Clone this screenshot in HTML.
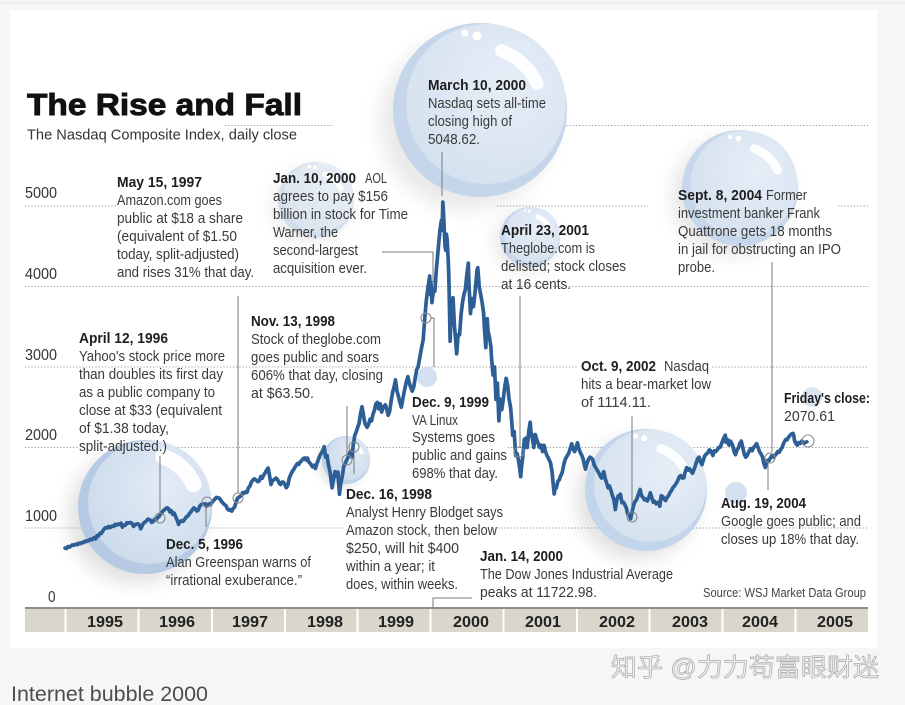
<!DOCTYPE html>
<html><head><meta charset="utf-8"><style>
html,body{margin:0;padding:0;background:#f6f6f6;}
body{width:905px;height:705px;overflow:hidden;}
svg{display:block;}
text{font-family:"Liberation Sans",Arial,sans-serif;}
.b{font-weight:bold;fill:#1e1e1e;font-size:15px;}
.t{fill:#3a3a3a;font-size:15px;}
.y{fill:#333;font-size:16px;}
.yr{font-weight:bold;fill:#222;font-size:16px;}
.g{stroke:#999;stroke-width:1.1;stroke-dasharray:1.2 2;fill:none;}
.ld{stroke:#7a7a7a;stroke-width:1;fill:none;}
.pc{stroke:#8a8a8a;stroke-width:1.1;fill:none;}
</style></head><body>
<svg width="905" height="705" viewBox="0 0 905 705" xmlns="http://www.w3.org/2000/svg">
<defs>
<filter id="bl" x="-60%" y="-60%" width="220%" height="220%"><feGaussianBlur stdDeviation="9"/></filter>
<filter id="bs" x="-60%" y="-60%" width="220%" height="220%"><feGaussianBlur stdDeviation="4"/></filter>
<radialGradient id="inr" cx="0.62" cy="0.38" r="0.7"><stop offset="0" stop-color="#e6eef7"/><stop offset="1" stop-color="#d5e1ef"/></radialGradient>
<radialGradient id="inr2" cx="0.62" cy="0.38" r="0.7"><stop offset="0" stop-color="#e3ecf6"/><stop offset="1" stop-color="#cbdaec"/></radialGradient>
</defs>
<rect x="0" y="0" width="905" height="705" fill="#f6f6f6"/>
<rect x="0" y="2.5" width="905" height="1" fill="#e4e4e4"/>
<rect x="10" y="10" width="867" height="638" fill="#ffffff"/>

<!-- gridlines -->
<line class="g" x1="225" y1="125.5" x2="333" y2="125.5"/>
<line class="g" x1="563" y1="125.5" x2="868" y2="125.5"/>
<line class="g" x1="25" y1="206" x2="117" y2="206"/>
<line class="g" x1="497" y1="206" x2="648" y2="206"/>
<line class="g" x1="838" y1="206" x2="868" y2="206"/>
<line class="g" x1="25" y1="286.5" x2="868" y2="286.5"/>
<line class="g" x1="25" y1="367" x2="578" y2="367"/>
<line class="g" x1="712" y1="367" x2="868" y2="367"/>
<line class="g" x1="25" y1="447.5" x2="78" y2="447.5"/>
<line class="g" x1="175" y1="447.5" x2="410" y2="447.5"/>
<line class="g" x1="508" y1="447.5" x2="868" y2="447.5"/>
<line class="g" x1="25" y1="528" x2="345" y2="528"/>
<line class="g" x1="498" y1="528" x2="868" y2="528"/>

<!-- bubble shadows -->
<g fill="#7c7c7c">
<circle cx="467" cy="123" r="87" opacity="0.16" filter="url(#bl)"/>
<circle cx="310" cy="206" r="38" opacity="0.14" filter="url(#bl)"/>
<circle cx="731" cy="197" r="58" opacity="0.2" filter="url(#bl)"/>
<circle cx="525" cy="242" r="30" opacity="0.18" filter="url(#bl)"/>
<circle cx="637" cy="499" r="61" opacity="0.22" filter="url(#bl)"/>
<circle cx="135" cy="517" r="67" opacity="0.22" filter="url(#bl)"/>
<circle cx="342" cy="464" r="24" opacity="0.18" filter="url(#bs)"/>
</g>

<!-- bubbles -->
<g>
<circle cx="480" cy="110" r="87" fill="#c5d6ea"/>
<circle cx="486" cy="104" r="80" fill="url(#inr)"/>
<path d="M501.5,50.8 A63,63 0 0,1 537.1,83.4" stroke="#fff" stroke-width="13" stroke-linecap="round" fill="none" opacity="0.92"/>
<circle cx="465" cy="33" r="3.5" fill="#fff"/><circle cx="477" cy="36" r="4.5" fill="#fff"/>
</g>
<g opacity="0.75">
<circle cx="316" cy="200" r="38" fill="#cad9ec"/>
<circle cx="318.7" cy="197.3" r="35" fill="url(#inr)"/>
<path d="M325.3,174.3 A27.4,27.4 0 0,1 340.8,188.4" stroke="#fff" stroke-width="5.7" stroke-linecap="round" fill="none"/>
<circle cx="309.5" cy="166.6" r="1.6" fill="#fff"/><circle cx="314.9" cy="167.7" r="2" fill="#fff"/>
</g>
<g>
<circle cx="740" cy="188" r="58" fill="#c7d7eb"/>
<circle cx="744.1" cy="183.9" r="53.4" fill="url(#inr)"/>
<path d="M754.3,148.7 A41.8,41.8 0 0,1 777.9,170.4" stroke="#fff" stroke-width="8.7" stroke-linecap="round" fill="none" opacity="0.92"/>
<circle cx="730.1" cy="137" r="2.3" fill="#fff"/><circle cx="738.3" cy="138.7" r="2.9" fill="#fff"/>
</g>
<g>
<circle cx="530" cy="237" r="30" fill="#c7d7eb"/>
<circle cx="532.1" cy="234.9" r="27.6" fill="url(#inr)"/>
<path d="M537.4,216.7 A21.6,21.6 0 0,1 549.6,227.9" stroke="#fff" stroke-width="4.5" stroke-linecap="round" fill="none"/>
<circle cx="524.9" cy="210.6" r="1.2" fill="#fff"/><circle cx="529.1" cy="211.5" r="1.5" fill="#fff"/>
</g>
<g>
<circle cx="646" cy="490" r="61" fill="#c3d5ea"/>
<circle cx="650.3" cy="485.7" r="56.1" fill="url(#inr)"/>
<path d="M661,448.7 A43.9,43.9 0 0,1 685.8,471.5" stroke="#fff" stroke-width="9.2" stroke-linecap="round" fill="none" opacity="0.92"/>
<circle cx="635.6" cy="436.3" r="2.4" fill="#fff"/><circle cx="644.2" cy="438.2" r="3" fill="#fff"/>
</g>
<g>
<circle cx="145" cy="507" r="67" fill="#b6cae3"/>
<circle cx="149.7" cy="502.3" r="61.6" fill="url(#inr2)"/>
<path d="M163.3,456.6 A53.6,53.6 0 0,1 193.6,484.3" stroke="#fff" stroke-width="16" stroke-linecap="round" fill="none" opacity="0.95"/>
</g>
<g>
<circle cx="346" cy="460" r="24" fill="#bfd1e8"/>
<circle cx="347.7" cy="458.3" r="22.1" fill="url(#inr2)"/>
<path d="M351.9,443.8 A17.3,17.3 0 0,1 361.7,452.7" stroke="#fff" stroke-width="3.6" stroke-linecap="round" fill="none"/>
</g>
<circle cx="427" cy="377" r="10" fill="#d3e0ef"/>
<circle cx="736" cy="493" r="11" fill="#d3e0ef"/>
<circle cx="812" cy="397" r="10" fill="#dae5f1"/>

<!-- title -->
<text x="27" y="115" font-size="31" font-weight="bold" fill="#111" stroke="#111" stroke-width="0.9" textLength="275" lengthAdjust="spacingAndGlyphs">The Rise and Fall</text>
<text x="27" y="139.5" font-size="15" fill="#333" textLength="270" lengthAdjust="spacingAndGlyphs">The Nasdaq Composite Index, daily close</text>

<!-- y labels -->
<text class="y" x="25" y="198" textLength="32" lengthAdjust="spacingAndGlyphs">5000</text>
<text class="y" x="25" y="279" textLength="32" lengthAdjust="spacingAndGlyphs">4000</text>
<text class="y" x="25" y="360" textLength="32" lengthAdjust="spacingAndGlyphs">3000</text>
<text class="y" x="25" y="440" textLength="32" lengthAdjust="spacingAndGlyphs">2000</text>
<text class="y" x="25" y="521" textLength="32" lengthAdjust="spacingAndGlyphs">1000</text>
<text class="y" x="48" y="602" textLength="7.5" lengthAdjust="spacingAndGlyphs">0</text>

<!-- leader lines -->
<line class="ld" x1="160" y1="456" x2="160" y2="513"/>
<line class="ld" x1="206" y1="507" x2="206" y2="527"/>
<line class="ld" x1="238" y1="296" x2="238" y2="493"/>
<line class="ld" x1="347" y1="406" x2="347" y2="455"/>
<line class="ld" x1="354" y1="451" x2="354" y2="474"/>
<path class="ld" d="M431,318 H434 V367"/>
<path class="ld" d="M382,252 H433 V282"/>
<line class="ld" x1="442" y1="152" x2="442" y2="196"/>
<path class="ld" d="M433,608 V598 H472"/>
<line class="ld" x1="520" y1="296" x2="520" y2="448"/>
<line class="ld" x1="632" y1="416" x2="632" y2="512"/>
<line class="ld" x1="772" y1="262" x2="772" y2="452"/>
<line class="ld" x1="768" y1="463" x2="768" y2="490"/>

<!-- data -->
<g transform="translate(65,608.5) scale(72.8,-0.0805)">
<polyline fill="none" stroke="#2d5e96" stroke-width="3.7" stroke-linejoin="round" stroke-linecap="round" vector-effect="non-scaling-stroke" points="
0,751 0.02,745 0.04,770 0.06,762 0.08,775 0.10,790 0.12,785 0.15,800 0.17,793 0.19,812 0.21,805 0.23,820 0.25,817 0.27,835 0.29,830 0.31,845 0.33,843 0.35,860 0.37,855 0.40,880 0.42,864 0.44,905 0.46,900 0.48,935 0.50,933 0.52,965 0.54,990 0.56,1005 0.58,1001 0.60,1020 0.62,1005 0.65,1025 0.67,1020 0.69,1045 0.71,1035 0.73,1050 0.75,1044 0.77,1060 0.79,1010 0.81,1035 0.83,1036 0.85,1065 0.87,1060 0.90,1069 0.92,1059 0.94,1020 0.96,1035 0.98,1050 1.00,1052
1.02,1040 1.04,990 1.06,1030 1.08,1060 1.10,1075 1.12,1090 1.14,1110 1.17,1100 1.19,1070 1.21,1080 1.23,1110 1.25,1101 1.27,1130 1.29,1140 1.31,1170 1.33,1191 1.35,1215 1.37,1230 1.40,1250 1.42,1243 1.44,1200 1.46,1215 1.48,1170 1.50,1185 1.52,1140 1.54,1100 1.56,1045 1.58,1080 1.60,1090 1.62,1081 1.65,1115 1.67,1142 1.69,1150 1.71,1180 1.73,1200 1.75,1227 1.77,1250 1.79,1235 1.81,1210 1.83,1222 1.85,1270 1.87,1290 1.90,1300 1.92,1293 1.93,1300 1.94,1270 1.96,1285 1.98,1300 2.00,1291
2.02,1320 2.04,1340 2.06,1360 2.08,1380 2.10,1375 2.12,1370 2.15,1330 2.17,1309 2.19,1290 2.21,1280 2.23,1240 2.25,1222 2.27,1230 2.29,1210 2.31,1240 2.33,1261 2.35,1320 2.37,1370 2.40,1390 2.42,1400 2.44,1440 2.46,1430 2.48,1450 2.50,1442 2.52,1500 2.54,1520 2.56,1570 2.58,1594 2.60,1610 2.62,1600 2.65,1575 2.67,1587 2.69,1640 2.71,1620 2.73,1660 2.75,1686 2.77,1720 2.79,1745 2.81,1650 2.83,1540 2.85,1590 2.87,1600 2.90,1620 2.92,1601 2.94,1560 2.96,1540 2.98,1570 3.00,1570
3.02,1540 3.04,1500 3.06,1530 3.08,1619 3.10,1660 3.12,1700 3.15,1740 3.17,1771 3.19,1800 3.21,1790 3.23,1820 3.25,1835 3.27,1860 3.29,1870 3.31,1845 3.33,1868 3.35,1820 3.37,1800 3.40,1760 3.42,1779 3.44,1740 3.46,1800 3.48,1850 3.50,1895 3.52,1930 3.54,1960 3.56,2010 3.58,1880 3.60,1900 3.62,1780 3.64,1700 3.66,1560 3.67,1499 3.69,1620 3.71,1700 3.73,1640 3.75,1694 3.76,1550 3.77,1419 3.78,1500 3.79,1560 3.81,1650 3.83,1771 3.85,1800 3.87,1845 3.90,1900 3.92,1950 3.94,1880 3.96,2030 3.98,2150 4.00,2193
4.02,2250 4.04,2300 4.06,2420 4.08,2505 4.10,2400 4.12,2300 4.15,2250 4.17,2288 4.19,2350 4.21,2330 4.23,2410 4.25,2461 4.27,2540 4.29,2560 4.31,2480 4.33,2543 4.35,2440 4.37,2500 4.40,2530 4.42,2471 4.44,2400 4.46,2450 4.48,2580 4.50,2686 4.52,2750 4.54,2840 4.56,2700 4.58,2638 4.60,2560 4.62,2500 4.65,2650 4.67,2739 4.69,2820 4.71,2880 4.73,2800 4.75,2746 4.77,2700 4.79,2750 4.81,2860 4.83,2966 4.85,3000 4.87,3100 4.90,3250 4.92,3336 4.94,3586 4.96,3800 4.98,3950 5.00,4069
5.01,4130 5.02,3900 5.027,4049 5.04,3800 5.06,3950 5.08,3940 5.10,4200 5.12,4400 5.13,4500 5.15,4697 5.17,4820 5.18,4700 5.19,5048 5.20,4900 5.21,4700 5.22,4500 5.23,4450 5.24,4650 5.25,4573 5.26,4400 5.27,4200 5.28,3800 5.29,3321 5.30,3600 5.31,3700 5.32,3550 5.33,3861 5.35,3500 5.36,3400 5.38,3164 5.40,3400 5.42,3401 5.44,3650 5.46,3800 5.48,3900 5.50,3966 5.52,4150 5.54,4289 5.55,4000 5.57,3663 5.59,3850 5.61,3750 5.63,3900 5.65,4100 5.66,4206 5.67,4234 5.69,4000 5.71,3900 5.73,3800 5.75,3673 5.76,3500 5.78,3240 5.80,3600 5.81,3450 5.83,3370 5.85,3250 5.86,3100 5.88,2900 5.90,3000 5.92,2598 5.93,2750 5.94,2800 5.95,2550 5.96,2332 5.97,2500 5.98,2600 6.00,2471
6.02,2600 6.04,2750 6.06,2859 6.08,2773 6.10,2600 6.12,2500 6.13,2400 6.15,2152 6.17,2200 6.19,1900 6.21,1923 6.23,1840 6.24,1780 6.26,1638 6.27,1750 6.29,1900 6.31,2100 6.33,2116 6.35,2000 6.37,2200 6.39,2313 6.40,2200 6.42,2110 6.44,2000 6.46,2161 6.48,2100 6.50,2050 6.52,2000 6.54,2030 6.56,1950 6.58,2027 6.60,1950 6.62,1900 6.65,1850 6.67,1805 6.69,1700 6.70,1600 6.72,1423 6.73,1480 6.75,1499 6.77,1580 6.79,1600 6.81,1650 6.83,1690 6.85,1780 6.87,1850 6.90,1900 6.92,1931 6.94,1990 6.96,2046 6.98,1980 7.00,1950
7.02,2000 7.04,2059 7.06,1980 7.08,1934 7.10,1900 7.12,1850 7.13,1800 7.15,1731 7.17,1800 7.19,1850 7.21,1880 7.23,1870 7.25,1845 7.27,1780 7.29,1750 7.31,1720 7.33,1688 7.35,1650 7.37,1620 7.40,1700 7.42,1616 7.44,1560 7.46,1500 7.48,1520 7.50,1463 7.52,1400 7.54,1350 7.56,1229 7.58,1350 7.60,1400 7.62,1380 7.63,1420 7.65,1315 7.67,1320 7.69,1290 7.71,1250 7.73,1172 7.75,1160 7.77,1114 7.79,1200 7.81,1280 7.83,1330 7.85,1350 7.87,1400 7.90,1479 7.92,1400 7.94,1380 7.96,1350 7.98,1360 8.00,1336
8.02,1380 8.04,1438 8.06,1380 8.08,1321 8.10,1330 8.12,1300 8.15,1320 8.17,1271 8.19,1400 8.21,1390 8.23,1360 8.25,1341 8.27,1380 8.29,1400 8.31,1440 8.33,1464 8.35,1500 8.37,1520 8.40,1560 8.42,1596 8.44,1640 8.46,1650 8.48,1620 8.50,1623 8.52,1700 8.54,1750 8.56,1720 8.58,1735 8.60,1700 8.62,1680 8.65,1750 8.67,1810 8.69,1860 8.71,1880 8.73,1820 8.75,1787 8.77,1850 8.79,1900 8.81,1920 8.83,1932 8.85,1970 8.87,1960 8.90,1900 8.92,1960 8.94,1950 8.96,1970 8.98,2000 9.00,2003
9.02,2050 9.04,2100 9.07,2153 9.08,2066 9.10,2100 9.12,2030 9.14,2080 9.17,2030 9.19,1950 9.21,1910 9.23,1970 9.25,1994 9.27,2050 9.29,2080 9.31,2000 9.33,1920 9.35,1880 9.37,1900 9.40,1960 9.42,1987 9.44,1960 9.46,2000 9.48,2020 9.50,2048 9.52,2000 9.54,1950 9.56,1920 9.58,1887 9.60,1800 9.62,1752 9.63,1800 9.65,1840 9.67,1838 9.69,1870 9.71,1900 9.73,1880 9.75,1897 9.77,1920 9.79,1950 9.81,1940 9.83,1975 9.85,2000 9.87,2050 9.90,2100 9.92,2097 9.94,2130 9.96,2150 9.98,2170 10.00,2175
10.01,2150 10.02,2090 10.04,2050 10.06,2030 10.08,2062 10.10,2050 10.12,2080 10.14,2060 10.15,2052 10.17,2065 10.19,2070"/>
</g>

<!-- point circles -->
<circle class="pc" cx="160" cy="518" r="5"/>
<circle class="pc" cx="207" cy="502" r="5"/>
<circle class="pc" cx="238" cy="498" r="5"/>
<circle class="pc" cx="347" cy="460" r="5"/>
<circle class="pc" cx="354" cy="447" r="5"/>
<circle class="pc" cx="426" cy="318" r="5"/>
<circle class="pc" cx="519" cy="452" r="5"/>
<circle class="pc" cx="632" cy="517" r="5"/>
<circle class="pc" cx="770" cy="458" r="5"/>
<circle class="pc" cx="808" cy="441" r="6" stroke-width="1.4"/>

<!-- annotations -->
<g>
<text class="b" x="117" y="187" textLength="85" lengthAdjust="spacingAndGlyphs">May 15, 1997</text>
<text class="t" x="117" y="205" textLength="105" lengthAdjust="spacingAndGlyphs">Amazon.com goes</text>
<text class="t" x="117" y="223" textLength="126" lengthAdjust="spacingAndGlyphs">public at $18 a share</text>
<text class="t" x="117" y="241" textLength="120" lengthAdjust="spacingAndGlyphs">(equivalent of $1.50</text>
<text class="t" x="117" y="259" textLength="122" lengthAdjust="spacingAndGlyphs">today, split-adjusted)</text>
<text class="t" x="117" y="277" textLength="137" lengthAdjust="spacingAndGlyphs">and rises 31% that day.</text>

<text class="b" x="273" y="183" textLength="83" lengthAdjust="spacingAndGlyphs">Jan. 10, 2000</text>
<text class="t" x="365" y="183" textLength="22" lengthAdjust="spacingAndGlyphs">AOL</text>
<text class="t" x="273" y="201" textLength="115" lengthAdjust="spacingAndGlyphs">agrees to pay $156</text>
<text class="t" x="273" y="219" textLength="135" lengthAdjust="spacingAndGlyphs">billion in stock for Time</text>
<text class="t" x="273" y="237" textLength="65" lengthAdjust="spacingAndGlyphs">Warner, the</text>
<text class="t" x="273" y="255" textLength="85" lengthAdjust="spacingAndGlyphs">second-largest</text>
<text class="t" x="273" y="273" textLength="94" lengthAdjust="spacingAndGlyphs">acquisition ever.</text>

<text class="b" x="428" y="90" textLength="98" lengthAdjust="spacingAndGlyphs">March 10, 2000</text>
<text class="t" x="428" y="108" textLength="118" lengthAdjust="spacingAndGlyphs">Nasdaq sets all-time</text>
<text class="t" x="428" y="126" textLength="84" lengthAdjust="spacingAndGlyphs">closing high of</text>
<text class="t" x="428" y="144" textLength="52" lengthAdjust="spacingAndGlyphs">5048.62.</text>

<text class="b" x="501" y="235" textLength="88" lengthAdjust="spacingAndGlyphs">April 23, 2001</text>
<text class="t" x="501" y="253" textLength="94" lengthAdjust="spacingAndGlyphs">Theglobe.com is</text>
<text class="t" x="501" y="271" textLength="125" lengthAdjust="spacingAndGlyphs">delisted; stock closes</text>
<text class="t" x="501" y="289" textLength="70" lengthAdjust="spacingAndGlyphs">at 16 cents.</text>

<text class="b" x="678" y="200" textLength="84" lengthAdjust="spacingAndGlyphs">Sept. 8, 2004</text>
<text class="t" x="766" y="200" textLength="41" lengthAdjust="spacingAndGlyphs">Former</text>
<text class="t" x="678" y="218" textLength="142" lengthAdjust="spacingAndGlyphs">investment banker Frank</text>
<text class="t" x="678" y="236" textLength="154" lengthAdjust="spacingAndGlyphs">Quattrone gets 18 months</text>
<text class="t" x="678" y="254" textLength="163" lengthAdjust="spacingAndGlyphs">in jail for obstructing an IPO</text>
<text class="t" x="678" y="272" textLength="37" lengthAdjust="spacingAndGlyphs">probe.</text>

<text class="b" x="79" y="343" textLength="89" lengthAdjust="spacingAndGlyphs">April 12, 1996</text>
<text class="t" x="79" y="361" textLength="146" lengthAdjust="spacingAndGlyphs">Yahoo's stock price more</text>
<text class="t" x="79" y="379" textLength="144" lengthAdjust="spacingAndGlyphs">than doubles its first day</text>
<text class="t" x="79" y="397" textLength="136" lengthAdjust="spacingAndGlyphs">as a public company to</text>
<text class="t" x="79" y="415" textLength="143" lengthAdjust="spacingAndGlyphs">close at $33 (equivalent</text>
<text class="t" x="79" y="433" textLength="90" lengthAdjust="spacingAndGlyphs">of $1.38 today,</text>
<text class="t" x="79" y="451" textLength="88" lengthAdjust="spacingAndGlyphs">split-adjusted.)</text>

<text class="b" x="251" y="326" textLength="84" lengthAdjust="spacingAndGlyphs">Nov. 13, 1998</text>
<text class="t" x="251" y="344" textLength="130" lengthAdjust="spacingAndGlyphs">Stock of theglobe.com</text>
<text class="t" x="251" y="362" textLength="128" lengthAdjust="spacingAndGlyphs">goes public and soars</text>
<text class="t" x="251" y="380" textLength="132" lengthAdjust="spacingAndGlyphs">606% that day, closing</text>
<text class="t" x="251" y="398" textLength="63" lengthAdjust="spacingAndGlyphs">at $63.50.</text>

<text class="b" x="166" y="549" textLength="77" lengthAdjust="spacingAndGlyphs">Dec. 5, 1996</text>
<text class="t" x="166" y="567" textLength="145" lengthAdjust="spacingAndGlyphs">Alan Greenspan warns of</text>
<text class="t" x="166" y="585" textLength="136" lengthAdjust="spacingAndGlyphs">“irrational exuberance.”</text>

<text class="b" x="346" y="499" textLength="86" lengthAdjust="spacingAndGlyphs">Dec. 16, 1998</text>
<text class="t" x="346" y="517" textLength="157" lengthAdjust="spacingAndGlyphs">Analyst Henry Blodget says</text>
<text class="t" x="346" y="535" textLength="151" lengthAdjust="spacingAndGlyphs">Amazon stock, then below</text>
<text class="t" x="346" y="553" textLength="113" lengthAdjust="spacingAndGlyphs">$250, will hit $400</text>
<text class="t" x="346" y="571" textLength="89" lengthAdjust="spacingAndGlyphs">within a year; it</text>
<text class="t" x="346" y="589" textLength="112" lengthAdjust="spacingAndGlyphs">does, within weeks.</text>

<text class="b" x="412" y="407" textLength="77" lengthAdjust="spacingAndGlyphs">Dec. 9, 1999</text>
<text class="t" x="412" y="425" textLength="46" lengthAdjust="spacingAndGlyphs">VA Linux</text>
<text class="t" x="412" y="442" textLength="83" lengthAdjust="spacingAndGlyphs">Systems  goes</text>
<text class="t" x="412" y="460" textLength="95" lengthAdjust="spacingAndGlyphs">public and gains</text>
<text class="t" x="412" y="478" textLength="86" lengthAdjust="spacingAndGlyphs">698% that day.</text>

<text class="b" x="480" y="561" textLength="83" lengthAdjust="spacingAndGlyphs">Jan. 14, 2000</text>
<text class="t" x="480" y="579" textLength="193" lengthAdjust="spacingAndGlyphs">The Dow Jones Industrial Average</text>
<text class="t" x="480" y="597" textLength="117" lengthAdjust="spacingAndGlyphs">peaks at 11722.98.</text>

<text class="b" x="581" y="371" textLength="75" lengthAdjust="spacingAndGlyphs">Oct. 9, 2002</text>
<text class="t" x="664" y="371" textLength="45" lengthAdjust="spacingAndGlyphs">Nasdaq</text>
<text class="t" x="581" y="389" textLength="130" lengthAdjust="spacingAndGlyphs">hits a bear-market low</text>
<text class="t" x="581" y="407" textLength="70" lengthAdjust="spacingAndGlyphs">of 1114.11.</text>

<text class="b" x="784" y="403" textLength="86" lengthAdjust="spacingAndGlyphs">Friday's close:</text>
<text class="t" x="784" y="421" textLength="51" lengthAdjust="spacingAndGlyphs">2070.61</text>

<text class="b" x="721" y="508" textLength="85" lengthAdjust="spacingAndGlyphs">Aug. 19, 2004</text>
<text class="t" x="721" y="526" textLength="140" lengthAdjust="spacingAndGlyphs">Google goes public; and</text>
<text class="t" x="721" y="544" textLength="138" lengthAdjust="spacingAndGlyphs">closes up 18% that day.</text>

<text x="703" y="597" font-size="12.5" fill="#444" textLength="163" lengthAdjust="spacingAndGlyphs">Source: WSJ Market Data Group</text>
</g>

<!-- year bar -->
<rect x="25" y="607" width="843" height="25" fill="#d9d6cc"/>
<rect x="25" y="607" width="843" height="2" fill="#908e86"/>
<g fill="#ffffff">
<rect x="64.5" y="609" width="2" height="23"/>
<rect x="137.5" y="609" width="2" height="23"/>
<rect x="211" y="609" width="2" height="23"/>
<rect x="284" y="609" width="2" height="23"/>
<rect x="356.5" y="609" width="2" height="23"/>
<rect x="429.5" y="609" width="2" height="23"/>
<rect x="502.5" y="609" width="2" height="23"/>
<rect x="576" y="609" width="2" height="23"/>
<rect x="648.5" y="609" width="2" height="23"/>
<rect x="721.5" y="609" width="2" height="23"/>
<rect x="794.5" y="609" width="2" height="23"/>
</g>
<g text-anchor="middle">
<text class="yr" x="105" y="627" textLength="36" lengthAdjust="spacingAndGlyphs">1995</text>
<text class="yr" x="177" y="627" textLength="36" lengthAdjust="spacingAndGlyphs">1996</text>
<text class="yr" x="250" y="627" textLength="36" lengthAdjust="spacingAndGlyphs">1997</text>
<text class="yr" x="325" y="627" textLength="36" lengthAdjust="spacingAndGlyphs">1998</text>
<text class="yr" x="396" y="627" textLength="36" lengthAdjust="spacingAndGlyphs">1999</text>
<text class="yr" x="471" y="627" textLength="36" lengthAdjust="spacingAndGlyphs">2000</text>
<text class="yr" x="543" y="627" textLength="36" lengthAdjust="spacingAndGlyphs">2001</text>
<text class="yr" x="617" y="627" textLength="36" lengthAdjust="spacingAndGlyphs">2002</text>
<text class="yr" x="690" y="627" textLength="36" lengthAdjust="spacingAndGlyphs">2003</text>
<text class="yr" x="760" y="627" textLength="36" lengthAdjust="spacingAndGlyphs">2004</text>
<text class="yr" x="835" y="627" textLength="36" lengthAdjust="spacingAndGlyphs">2005</text>
</g>

<!-- watermark -->
<text x="611" y="676" font-size="25" fill="#f4f4f4" stroke="#a8a8a8" stroke-width="0.7" style="font-family:'Liberation Sans','Noto Sans CJK SC',sans-serif" textLength="268" lengthAdjust="spacingAndGlyphs">知乎 @力力苟富眼财迷</text>

<!-- caption -->
<text x="11" y="701" font-size="21" fill="#4d4d4d" textLength="197" lengthAdjust="spacingAndGlyphs">Internet bubble 2000</text>
</svg>
</body></html>
